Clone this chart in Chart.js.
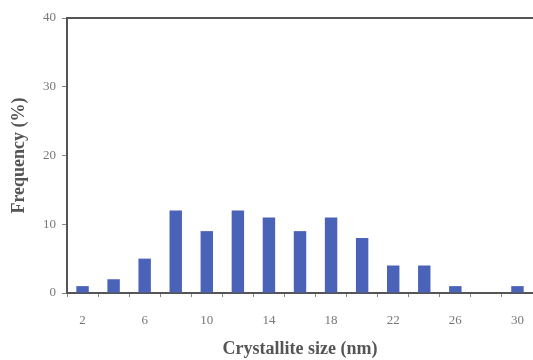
<!DOCTYPE html>
<html>
<head>
<meta charset="utf-8">
<script src="https://cdn.jsdelivr.net/npm/chart.js@4/dist/chart.umd.min.js"></script>
<style>
  html, body { margin: 0; padding: 0; background: #fff; }
  #wrap { width: 533px; height: 360px; }
</style>
</head>
<body>
<div id="wrap"><canvas id="sizeChart"></canvas></div>
<script>
const sizes = ["2", "4", "6", "8", "10", "12", "14", "16", "18", "20", "22", "24", "26", "28", "30"];
const frequency = [1, 2, 5, 12, 9, 12, 11, 9, 11, 8, 4, 4, 1, 0, 1];
const yTicks = [0, 10, 20, 30, 40];

const serif = "'Liberation Serif', 'DejaVu Serif', serif";
const axisColor = "#555";

const ctx = document.getElementById("sizeChart").getContext("2d");

const chart = new Chart(ctx, {
    type: "bar",
    data: {
        labels: sizes,
        datasets: [{
            label: "Frequency",
            data: frequency,
            backgroundColor: "#4a62b8",
            categoryPercentage: 1,
            barPercentage: 0.4
        }]
    },
    options: {
        responsive: true,
        maintainAspectRatio: false,
        animation: false,
        layout: { padding: 0 },
        plugins: {
            legend: { display: false },
            tooltip: { enabled: false }
        },
        scales: {
            x: {
                position: "bottom",
                grid: {
                    display: true,
                    drawOnChartArea: false,
                    drawTicks: true,
                    tickLength: 4,
                    color: "#888",
                    offset: true
                },
                border: { display: true, color: axisColor, width: 2 },
                ticks: {
                    autoSkip: false,
                    maxRotation: 0,
                    padding: 16,
                    color: "#777",
                    font: { family: serif, size: 13 },
                    // only every other size gets a label
                    callback: (v, i) => (i % 2 === 0 ? sizes[i] : "")
                },
                title: {
                    display: true,
                    text: "Crystallite size (nm)",
                    color: "#555",
                    font: { family: serif, size: 18, weight: "bold" },
                    padding: { top: 0, bottom: 0 }
                },
                afterFit: (scale) => {
                    scale.height = 67;
                    // let the plot run right up to the canvas edge
                    scale.paddingLeft = 0;
                    scale.paddingRight = 0;
                }
            },
            x2: {
                type: "category",
                labels: sizes,
                position: "top",
                grid: { display: false },
                border: { display: true, color: axisColor, width: 2 },
                ticks: { display: false },
                afterFit: (scale) => {
                    scale.height = 18;
                    scale.paddingLeft = 0;
                    scale.paddingRight = 0;
                }
            },
            y: {
                min: 0,
                max: 40,
                grid: {
                    display: true,
                    drawOnChartArea: false,
                    drawTicks: true,
                    tickLength: 5,
                    color: "#888"
                },
                border: { display: true, color: axisColor, width: 2 },
                afterBuildTicks: (scale) => {
                    scale.ticks = yTicks.map(v => ({ value: v }));
                },
                ticks: {
                    padding: 6,
                    color: "#777",
                    font: { family: serif, size: 13 }
                },
                title: {
                    display: true,
                    text: "Frequency (%)",
                    color: "#555",
                    font: { family: serif, size: 18, weight: "bold" },
                    padding: { top: 9, bottom: 0 }
                },
                afterFit: (scale) => { scale.width = 67; }
            }
        }
    }
});
</script>
</body>
</html>
